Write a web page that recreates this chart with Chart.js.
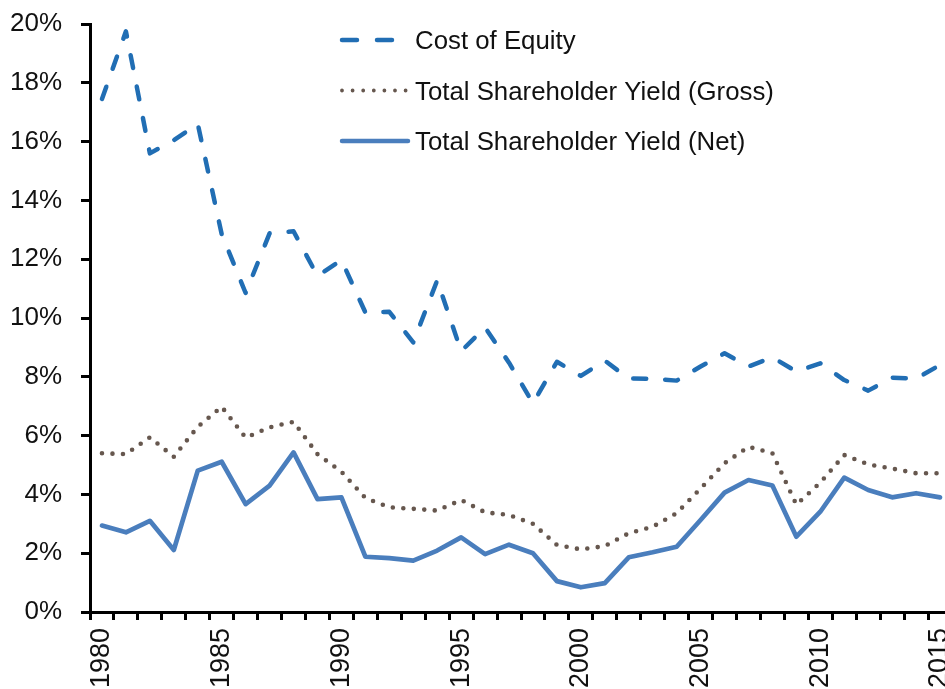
<!DOCTYPE html>
<html>
<head>
<meta charset="utf-8">
<title>Cost of Equity vs Total Shareholder Yield</title>
<script src="https://cdn.jsdelivr.net/npm/chart.js@4/dist/chart.umd.min.js"></script>
<style>
  html, body { margin: 0; padding: 0; background: #ffffff; overflow: hidden; }
  #wrap { width: 945px; height: 689px; overflow: hidden; position: relative; }
  canvas { display: block; }
</style>
</head>
<body>
<div id="wrap"><canvas id="chart" width="952" height="689"></canvas></div>
<script>
// Annual data, percent
const years = [
  1980, 1981, 1982, 1983, 1984, 1985, 1986, 1987, 1988, 1989,
  1990, 1991, 1992, 1993, 1994, 1995, 1996, 1997, 1998, 1999,
  2000, 2001, 2002, 2003, 2004, 2005, 2006, 2007, 2008, 2009,
  2010, 2011, 2012, 2013, 2014, 2015
];

const costOfEquity = [
  17.45, 19.75, 15.6, 16.05, 16.6, 12.85, 10.85, 12.88, 12.95, 11.43,
  11.97, 10.19, 10.21, 9.17, 11.28, 8.87, 9.68, 8.48, 7.1, 8.51,
  8.03, 8.55, 7.94, 7.93, 7.87, 8.35, 8.8, 8.35, 8.66, 8.18,
  8.46, 7.89, 7.53, 7.97, 7.94, 8.4
];

const grossYield = [
  5.4, 5.37, 5.94, 5.28, 6.3, 6.98, 5.93, 6.28, 6.47, 5.37,
  4.77, 3.88, 3.56, 3.51, 3.45, 3.81, 3.39, 3.3, 3.0, 2.28,
  2.13, 2.24, 2.68, 2.9, 3.36, 4.2, 5.06, 5.62, 5.4, 3.65,
  4.4, 5.34, 5.02, 4.88, 4.72, 4.72
];

const netYield = [
  2.94, 2.71, 3.1, 2.11, 4.81, 5.11, 3.67, 4.3, 5.43, 3.84,
  3.9, 1.88, 1.83, 1.75, 2.09, 2.54, 1.97, 2.29, 2.0, 1.05,
  0.84, 0.98, 1.86, 2.03, 2.22, 3.13, 4.06, 4.49, 4.3, 2.56,
  3.41, 4.57, 4.15, 3.9, 4.04, 3.9
];

const seriesNames = [
  'Cost of Equity',
  'Total Shareholder Yield (Gross)',
  'Total Shareholder Yield (Net)'
];

const yMin = 0;
const yMax = 20;
const yStep = 2;
const labelEvery = 5;

const FONT = '"Liberation Sans", Arial, Helvetica, sans-serif';
const INK = '#111111';

// Line samples and labels drawn in the upper part of the plot
const legendRows = [
  { y: 40,   from: 342, to: 408, width: 4.5, dash: [15, 20],   cap: 'round' },
  { y: 90.5, from: 342, to: 406, width: 3.8, dash: [0, 10.6], cap: 'round' },
  { y: 141,  from: 342, to: 408, width: 4.5, dash: [],         cap: 'round' }
];

const insetLegend = {
  id: 'insetLegend',
  afterDraw(chart) {
    const ctx = chart.ctx;
    ctx.save();
    chart.data.datasets.forEach((ds, i) => {
      const row = legendRows[i];
      ctx.beginPath();
      ctx.strokeStyle = ds.borderColor;
      ctx.lineWidth = row.width;
      ctx.lineCap = row.cap;
      ctx.setLineDash(row.dash);
      ctx.moveTo(row.from, row.y);
      ctx.lineTo(row.to, row.y);
      ctx.stroke();
      ctx.setLineDash([]);
      ctx.fillStyle = INK;
      ctx.font = '25.8px ' + FONT;
      ctx.textAlign = 'left';
      ctx.textBaseline = 'alphabetic';
      ctx.fillText(ds.label, 415, row.y + 9.4);
    });
    ctx.restore();
  }
};

new Chart(document.getElementById('chart'), {
  type: 'line',
  data: {
    labels: years,
    datasets: [
      {
        label: seriesNames[0],
        data: costOfEquity,
        borderColor: '#216EB4',
        borderWidth: 4.5,
        borderDash: [13, 19],
        borderCapStyle: 'round',
        borderJoinStyle: 'round',
        pointRadius: 0,
        tension: 0,
        fill: false
      },
      {
        label: seriesNames[1],
        data: grossYield,
        borderColor: '#66574E',
        borderWidth: 4.6,
        borderDash: [0, 10.5],
        borderCapStyle: 'round',
        borderJoinStyle: 'round',
        pointRadius: 0,
        tension: 0,
        fill: false
      },
      {
        label: seriesNames[2],
        data: netYield,
        borderColor: '#4A7EBD',
        borderWidth: 4.7,
        borderCapStyle: 'round',
        borderJoinStyle: 'round',
        pointRadius: 0,
        tension: 0,
        fill: false
      }
    ]
  },
  options: {
    responsive: false,
    animation: false,
    devicePixelRatio: 1,
    layout: { padding: { top: 24, left: 0, right: 0, bottom: 0 } },
    plugins: {
      legend: { display: false },
      tooltip: { enabled: false }
    },
    scales: {
      x: {
        type: 'category',
        offset: true,
        grid: {
          display: true,
          offset: true,
          drawOnChartArea: false,
          drawTicks: true,
          tickLength: 8,
          tickWidth: 3,
          tickColor: '#000000'
        },
        border: { display: true, color: '#000000', width: 3 },
        ticks: {
          autoSkip: false,
          minRotation: 90,
          maxRotation: 90,
          padding: 8,
          color: INK,
          font: { family: FONT, size: 27 },
          callback: function (value, index) {
            const yr = years[index];
            return yr % labelEvery === 0 ? String(yr) : '';
          }
        },
        afterFit: function (scale) {
          scale.height = 77;
          scale.paddingLeft = 0;
          scale.paddingRight = 0;
        }
      },
      y: {
        min: yMin,
        max: yMax,
        grid: {
          display: true,
          drawOnChartArea: false,
          drawTicks: true,
          tickLength: 9,
          tickWidth: 3,
          tickColor: '#000000'
        },
        border: { display: true, color: '#000000', width: 3 },
        ticks: {
          stepSize: yStep,
          padding: 19,
          color: INK,
          font: { family: FONT, size: 26 },
          callback: function (value) { return value + '%'; }
        },
        afterFit: function (scale) {
          scale.width = 90;
          scale.paddingTop = 0;
          scale.paddingBottom = 0;
        }
      }
    }
  },
  plugins: [insetLegend]
});
</script>
</body>
</html>
